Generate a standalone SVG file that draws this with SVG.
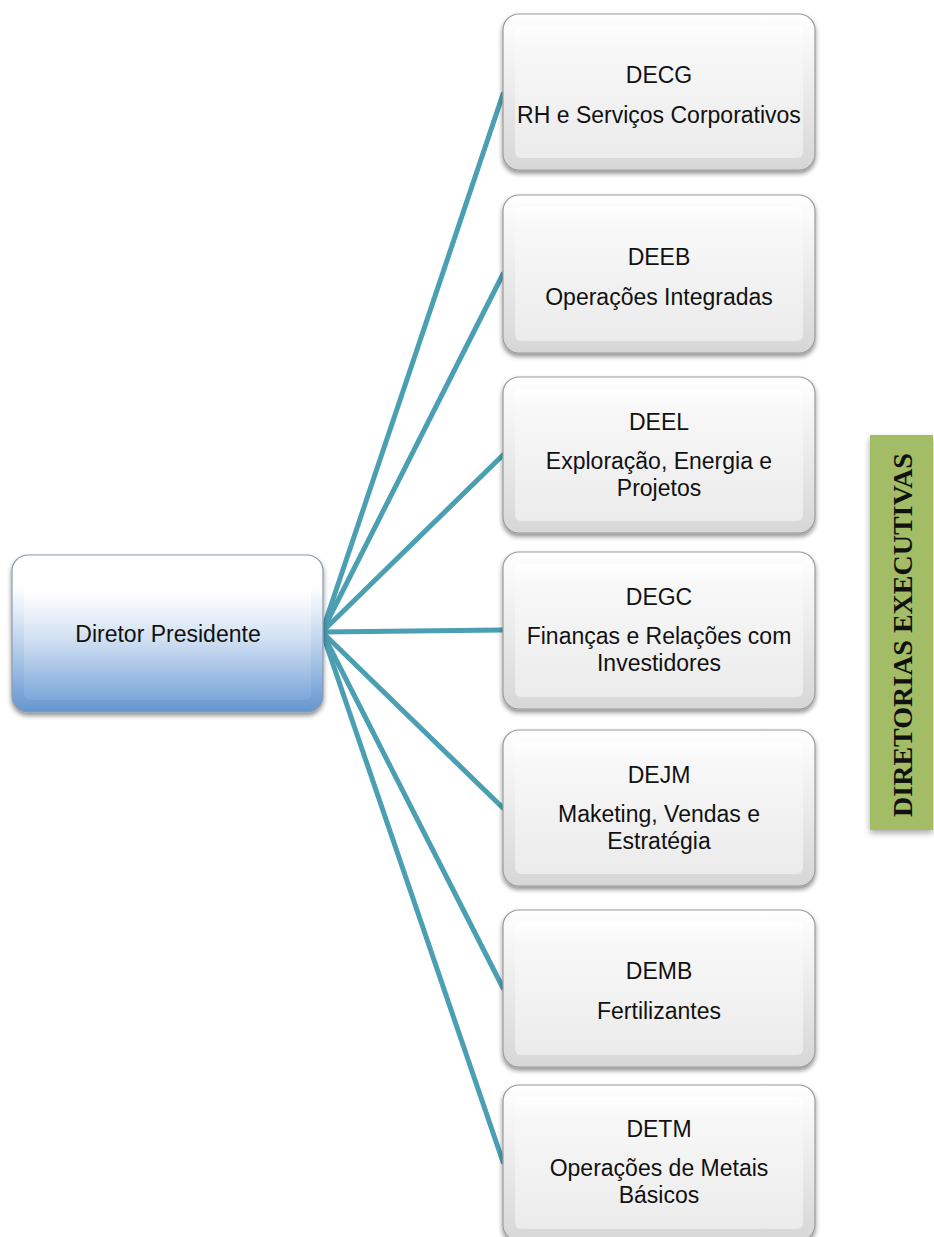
<svg xmlns="http://www.w3.org/2000/svg" width="934" height="1237" viewBox="0 0 934 1237">
<style>
  .lbl { font-family: "Liberation Sans", Arial, sans-serif; font-size: 23px; fill: #111; text-anchor: middle; }
  .ban { font-family: "Liberation Serif", serif; font-size: 28px; font-weight: bold; fill: #111; text-anchor: middle; }
  .box { fill: url(#gray); stroke: #9a9a9a; stroke-width: 1.2; filter: url(#sh); }
  .face { fill: url(#grayFace); }
  .conn { stroke: #4a9fb3; stroke-width: 5; fill: none; stroke-linecap: round; }
</style>
<defs>
  <linearGradient id="gray" x1="0" y1="0" x2="0" y2="1">
    <stop offset="0" stop-color="#ffffff"/>
    <stop offset="1" stop-color="#d6d6d6"/>
  </linearGradient>
  <linearGradient id="grayFace" x1="0" y1="0" x2="0" y2="1">
    <stop offset="0" stop-color="#ffffff"/>
    <stop offset="0.15" stop-color="#f8f8f8"/>
    <stop offset="1" stop-color="#ebebeb"/>
  </linearGradient>
  <linearGradient id="blue" x1="0" y1="0" x2="0" y2="1">
    <stop offset="0" stop-color="#ffffff"/>
    <stop offset="0.2" stop-color="#ffffff"/>
    <stop offset="0.5" stop-color="#c9daf0"/>
    <stop offset="1" stop-color="#6596cf"/>
  </linearGradient>
  <linearGradient id="blueFace" x1="0" y1="0" x2="0" y2="1">
    <stop offset="0" stop-color="#ffffff"/>
    <stop offset="0.2" stop-color="#ffffff"/>
    <stop offset="0.55" stop-color="#d0dff2"/>
    <stop offset="1" stop-color="#7ca7da"/>
  </linearGradient>
  <filter id="sh" x="-10%" y="-10%" width="120%" height="125%">
    <feGaussianBlur in="SourceAlpha" stdDeviation="2.5"/>
    <feOffset dx="0" dy="3" result="b"/>
    <feComponentTransfer><feFuncA type="linear" slope="0.45"/></feComponentTransfer>
    <feMerge><feMergeNode/><feMergeNode in="SourceGraphic"/></feMerge>
  </filter>
  <filter id="glow" x="-30%" y="-10%" width="160%" height="120%">
    <feGaussianBlur in="SourceAlpha" stdDeviation="3"/>
    <feOffset dx="0" dy="3"/>
    <feComponentTransfer><feFuncA type="linear" slope="0.35"/></feComponentTransfer>
    <feMerge><feMergeNode/><feMergeNode in="SourceGraphic"/></feMerge>
  </filter>
</defs>

<rect width="934" height="1237" fill="#ffffff"/>

<g id="connectors">
  <line class="conn" x1="322" y1="632" x2="503" y2="94"/>
  <line class="conn" x1="322" y1="632" x2="503" y2="274"/>
  <line class="conn" x1="322" y1="632" x2="503" y2="455"/>
  <line class="conn" x1="322" y1="632" x2="503" y2="630"/>
  <line class="conn" x1="322" y1="632" x2="503" y2="808"/>
  <line class="conn" x1="322" y1="632" x2="503" y2="988"/>
  <line class="conn" x1="322" y1="632" x2="503" y2="1162"/>
</g>

<g id="root">
  <rect x="12" y="555" width="311" height="157" rx="16" fill="url(#blue)" stroke="#8a9bb0" stroke-width="1.2" filter="url(#sh)"/>
  <rect x="24" y="567" width="287" height="133" rx="6" fill="url(#blueFace)"/>
  <text class="lbl" x="168" y="642">Diretor Presidente</text>
</g>

<g id="decg">
  <rect class="box" x="503" y="14" width="312" height="156" rx="16"/>
  <rect class="face" x="515" y="26" width="288" height="132" rx="6"/>
  <text class="lbl" x="659" y="83">DECG</text>
  <text class="lbl" x="659" y="123">RH e Serviços Corporativos</text>
</g>

<g id="deeb">
  <rect class="box" x="503" y="195" width="312" height="158" rx="16"/>
  <rect class="face" x="515" y="207" width="288" height="134" rx="6"/>
  <text class="lbl" x="659" y="265">DEEB</text>
  <text class="lbl" x="659" y="305">Operações Integradas</text>
</g>

<g id="deel">
  <rect class="box" x="503" y="377" width="312" height="156" rx="16"/>
  <rect class="face" x="515" y="389" width="288" height="132" rx="6"/>
  <text class="lbl" x="659" y="430">DEEL</text>
  <text class="lbl" x="659" y="469">Exploração, Energia e</text>
  <text class="lbl" x="659" y="496">Projetos</text>
</g>

<g id="degc">
  <rect class="box" x="503" y="552" width="312" height="157" rx="16"/>
  <rect class="face" x="515" y="564" width="288" height="133" rx="6"/>
  <text class="lbl" x="659" y="605">DEGC</text>
  <text class="lbl" x="659" y="644">Finanças e Relações com</text>
  <text class="lbl" x="659" y="671">Investidores</text>
</g>

<g id="dejm">
  <rect class="box" x="503" y="730" width="312" height="156" rx="16"/>
  <rect class="face" x="515" y="742" width="288" height="132" rx="6"/>
  <text class="lbl" x="659" y="783">DEJM</text>
  <text class="lbl" x="659" y="822">Maketing, Vendas e</text>
  <text class="lbl" x="659" y="849">Estratégia</text>
</g>

<g id="demb">
  <rect class="box" x="503" y="910" width="312" height="157" rx="16"/>
  <rect class="face" x="515" y="922" width="288" height="133" rx="6"/>
  <text class="lbl" x="659" y="979">DEMB</text>
  <text class="lbl" x="659" y="1019">Fertilizantes</text>
</g>

<g id="detm">
  <rect class="box" x="503" y="1085" width="312" height="156" rx="16"/>
  <rect class="face" x="515" y="1097" width="288" height="132" rx="6"/>
  <text class="lbl" x="659" y="1137">DETM</text>
  <text class="lbl" x="659" y="1176">Operações de Metais</text>
  <text class="lbl" x="659" y="1203">Básicos</text>
</g>

<g id="banner">
  <rect x="870" y="435" width="63" height="395" fill="#a2bd66" filter="url(#glow)"/>
  <text class="ban" transform="translate(912,635) rotate(-90)" x="0" y="0">DIRETORIAS EXECUTIVAS</text>
</g>
</svg>
